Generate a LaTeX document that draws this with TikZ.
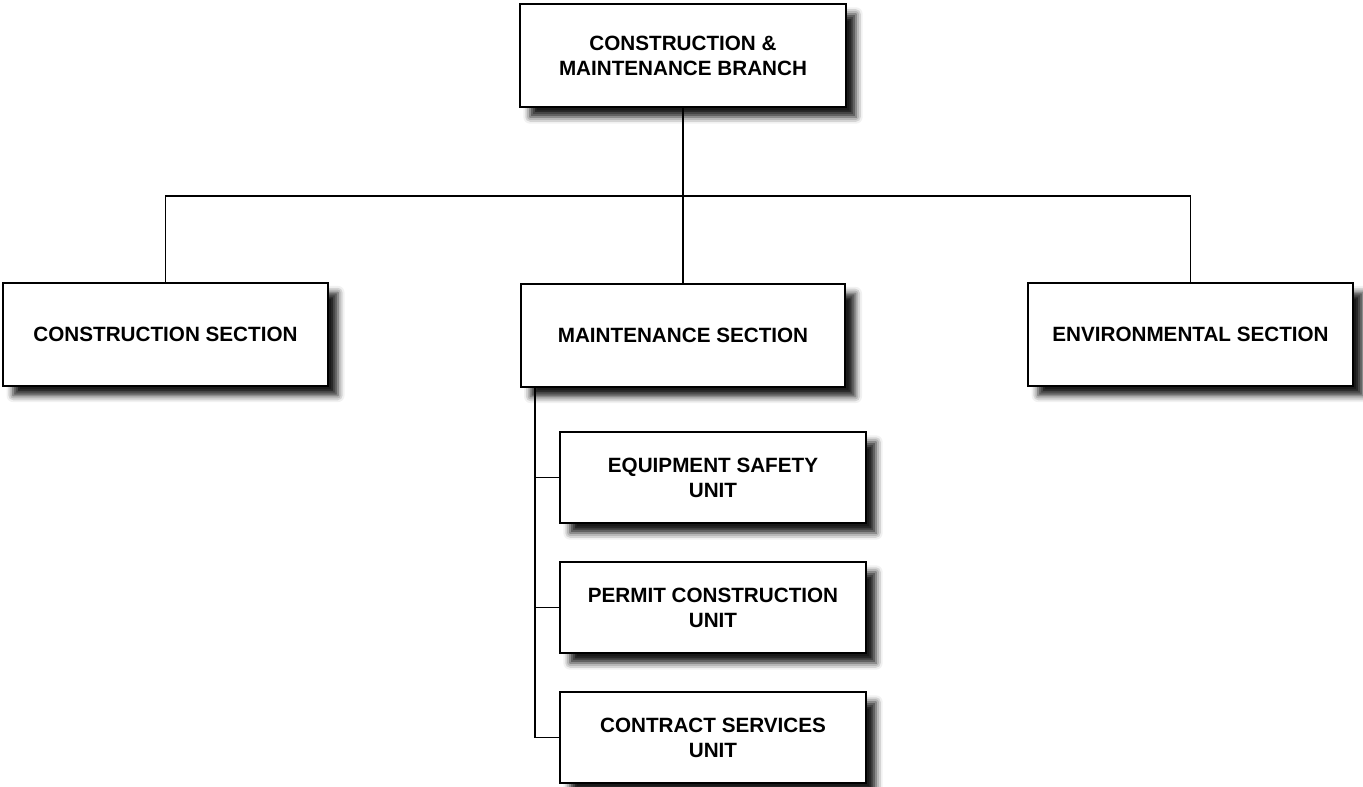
\documentclass[tikz,border=0pt]{standalone}
\usepackage{fontspec}
\setmainfont{Liberation Sans}
\usetikzlibrary{shadows.blur}
\begin{document}
\begin{tikzpicture}[x=0.75pt, y=-0.75pt,
  every node/.style={align=center, font=\fontsize{15.5}{18.75}\selectfont\bfseries},
  orgbox/.style={draw, line width=1.5pt, fill=white, minimum width=243.5pt, minimum height=77.25pt,
    blur shadow={shadow xshift=7.5pt, shadow yshift=-7.5pt, shadow blur radius=5pt, shadow opacity=90}},
  unitbox/.style={orgbox, minimum width=229.5pt, minimum height=68.25pt},
  link/.style={line width=1pt}]
\useasboundingbox (0,0) rectangle (1363,786);
\node[orgbox, minimum width=244.5pt] at (683,55.5) (branch) {CONSTRUCTION \&\\MAINTENANCE BRANCH};
\node[orgbox] at (165.5,334) (cons) {CONSTRUCTION SECTION};
\node[orgbox] at (683,335) (maint) {MAINTENANCE SECTION};
\node[orgbox] at (1190.5,334) (env) {ENVIRONMENTAL SECTION};
\node[unitbox] at (713,477.5) (equip) {EQUIPMENT SAFETY\\UNIT};
\node[unitbox] at (713,607.5) (permit) {PERMIT CONSTRUCTION\\UNIT};
\node[unitbox] at (713,737.5) (contract) {CONTRACT SERVICES\\UNIT};

\coordinate (bus) at (0,196);
\coordinate (spine) at (535,0);
\draw[link] (branch.south) -- (maint.north);
\draw[link] (cons.north) -- (cons.north |- bus) -- (env.north |- bus) -- (env.north);
\draw[link] (maint.south -| spine) -- (contract.west -| spine) -- (contract.west);
\foreach \u in {equip, permit}
  \draw[link] (\u.west -| spine) -- (\u.west);
\end{tikzpicture}
\end{document}
